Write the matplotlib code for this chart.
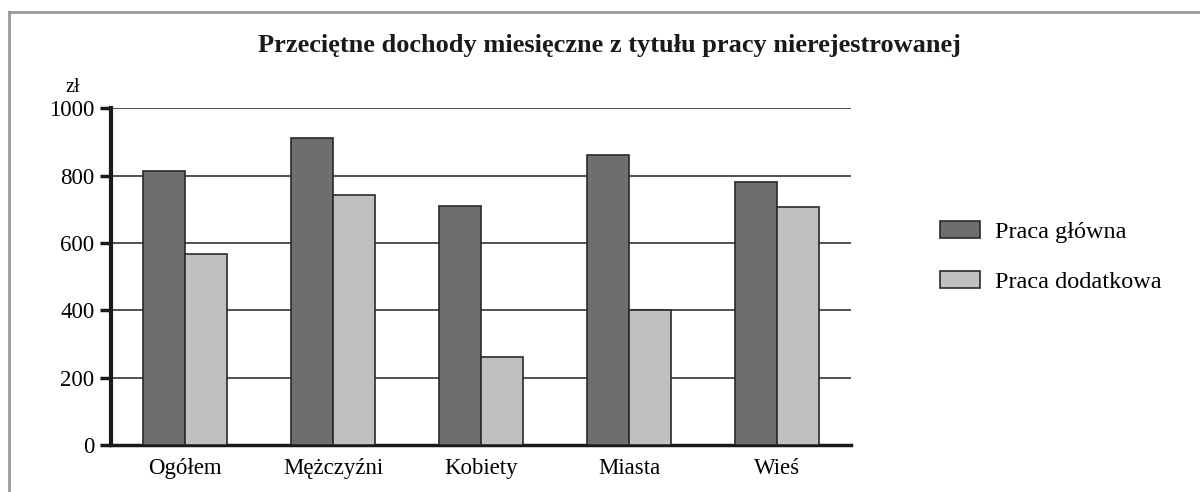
import matplotlib.pyplot as plt
import numpy as np
from matplotlib.lines import Line2D

# data
categories = ['Ogółem', 'Mężczyźni', 'Kobiety', 'Miasta', 'Wieś']
praca_glowna = [815, 912, 710, 861, 782]
praca_dodatkowa = [567, 744, 262, 400, 706]
yticks = [0, 200, 400, 600, 800, 1000]

plt.rcParams['font.family'] = ['Liberation Serif', 'DejaVu Serif']

fig = plt.figure(figsize=(12, 4.92), dpi=100)
ax = fig.add_axes([0.0925, 0.0955, 0.6167, 0.684])

dark = '#6f6e6c'
light = '#c1c0be'
edge = '#2a2a2a'

x = np.arange(len(categories))
w = 0.284
ax.bar(x - w / 2, praca_glowna, w, color=dark, edgecolor=edge, linewidth=1.2,
       label='Praca główna', zorder=3)
ax.bar(x + w / 2, praca_dodatkowa, w, color=light, edgecolor=edge, linewidth=1.2,
       label='Praca dodatkowa', zorder=3)

ax.set_xlim(-0.5, len(categories) - 0.5)
ax.set_ylim(0, 1000)
ax.set_yticks(yticks)
ax.set_xticks(x)
ax.set_xticklabels(categories, fontsize=16.5)
ax.tick_params(axis='x', length=0, pad=9)
ax.tick_params(axis='y', length=8, width=2.5, color='#1a1a1a', labelsize=16.5, pad=4)
ax.yaxis.grid(True, color='#222222', linewidth=1.1, zorder=0)
ax.set_axisbelow(True)

for s in ['top', 'right']:
    ax.spines[s].set_visible(False)
ax.spines['left'].set_linewidth(3)
ax.spines['left'].set_color('#1a1a1a')
ax.spines['bottom'].set_linewidth(2.5)
ax.spines['bottom'].set_color('#1a1a1a')

fig.text(0.0608, 0.823, 'zł', fontsize=14.5, ha='center', va='center')
fig.text(0.508, 0.907, 'Przeciętne dochody miesięczne z tytułu pracy nierejestrowanej',
         fontsize=19, fontweight='bold', ha='center', va='center', color='#1a1a1a')

ax.legend(loc='upper left', bbox_to_anchor=(0.7733, 0.575), bbox_transform=fig.transFigure,
          frameon=False, fontsize=17.5, handlelength=1.65, handleheight=0.7,
          labelspacing=1.13, handletextpad=0.62, borderpad=0)

# gray frame around the chart (top and left visible)
fig.add_artist(Line2D([0.0075, 1.0], [0.9756, 0.9756], color='#999999', linewidth=2,
                      transform=fig.transFigure))
fig.add_artist(Line2D([0.0075, 0.0075], [0.0, 0.9756], color='#999999', linewidth=2,
                      transform=fig.transFigure))

fig.savefig('out.png', dpi=100)
